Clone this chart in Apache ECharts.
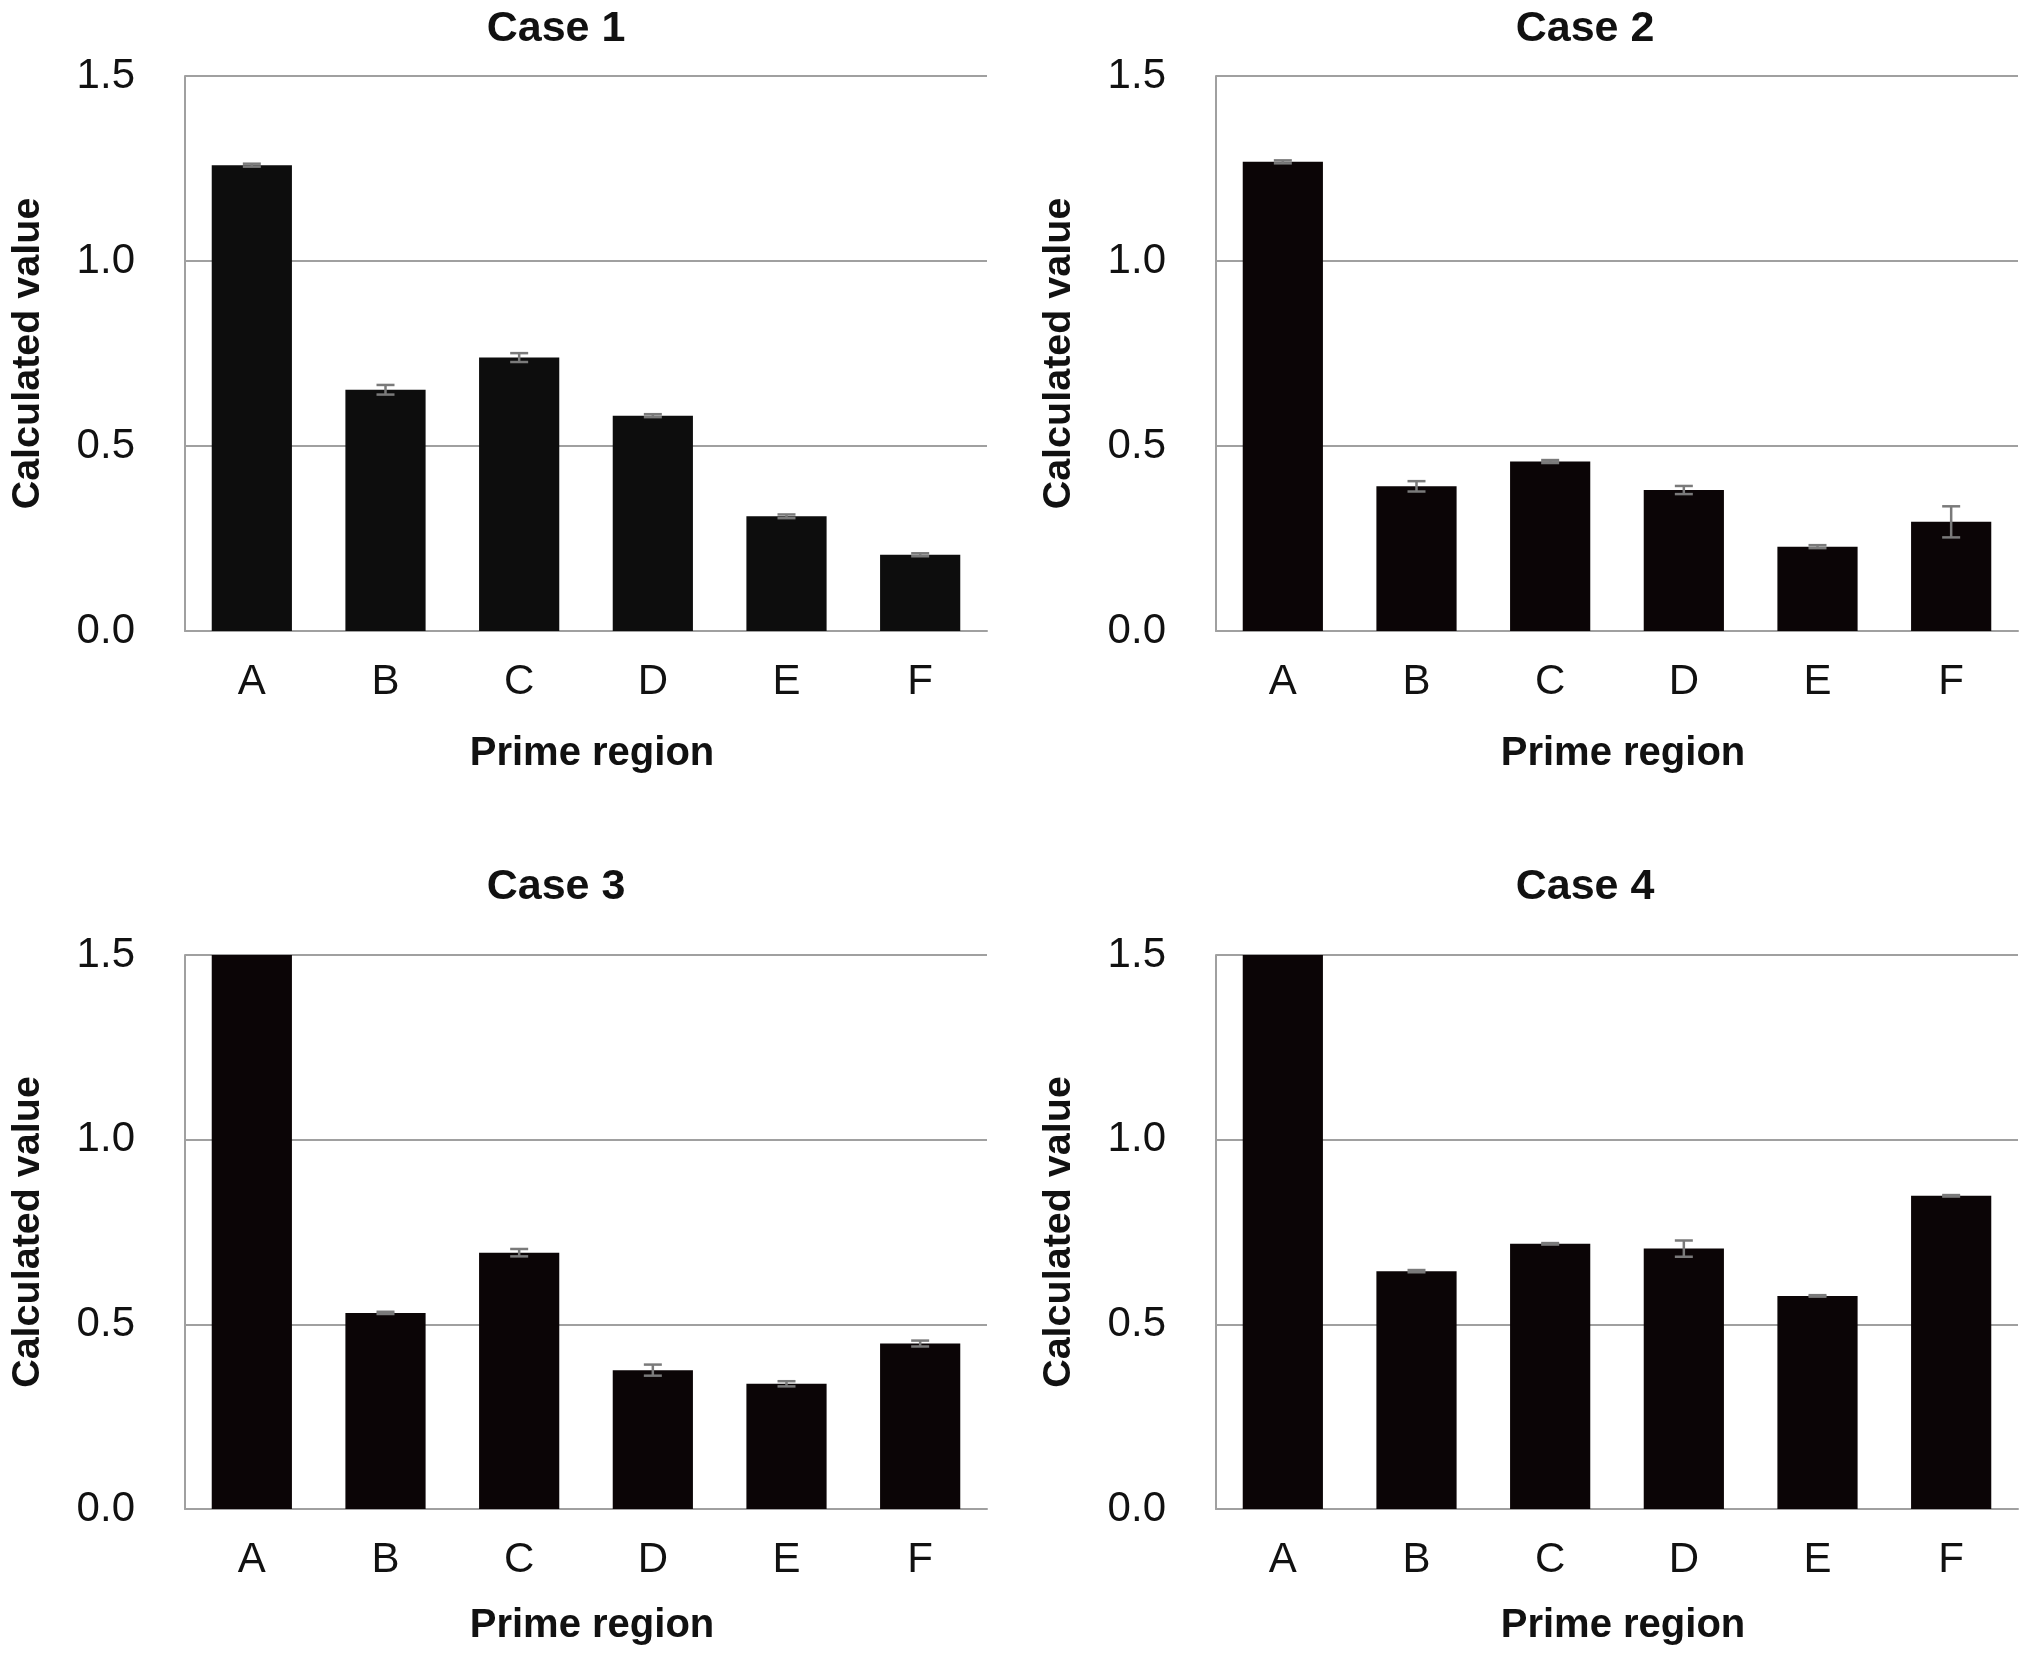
<!DOCTYPE html>
<html>
<head>
<meta charset="utf-8">
<script src="https://cdn.jsdelivr.net/npm/echarts@6/dist/echarts.min.js"></script>
<style>
html,body{margin:0;padding:0;background:#fff;}
#chart{width:2031px;height:1658px;}
</style>
</head>
<body>
<div id="chart"></div>
<script>
const categories = ['A','B','C','D','E','F'];
const titles = ['Case 1','Case 2','Case 3','Case 4'];
const yTicks = [0, 0.5, 1.0, 1.5];
const case1 = [1.259, 0.652, 0.739, 0.582, 0.310, 0.206];
const case2 = [1.268, 0.391, 0.458, 0.381, 0.228, 0.295];
const case3 = [1.5, 0.531, 0.694, 0.376, 0.339, 0.448];
const case4 = [1.5, 0.644, 0.718, 0.705, 0.577, 0.848];
const err1 = [0.004, 0.013, 0.012, 0.004, 0.005, 0.004];
const err2 = [0.004, 0.014, 0.004, 0.011, 0.004, 0.042];
const err3 = [0, 0.003, 0.010, 0.015, 0.007, 0.008];
const err4 = [0, 0.003, 0.002, 0.022, 0.002, 0.002];

const values = [case1, case2, case3, case4];
const errors = [err1, err2, err3, err4];
const barColors = ['#0d0d0d', '#0b0506', '#0b0506', '#0b0506'];

const grids = [
  {left: 185, top: 76, width: 802, height: 555},
  {left: 1216, top: 76, width: 802, height: 555},
  {left: 185, top: 955, width: 802, height: 554},
  {left: 1216, top: 955, width: 802, height: 554}
];
const titlePos = [
  {x: 551, y: 3}, {x: 1580, y: 3}, {x: 551, y: 861}, {x: 1580, y: 861}
];

const font = 'Liberation Sans, Arial, sans-serif';
const option = {
  backgroundColor: '#ffffff',
  animation: false,
  title: titles.map((t, i) => ({
    text: t, left: titlePos[i].x, top: titlePos[i].y, textAlign: 'center',
    textStyle: {fontFamily: font, fontWeight: 'bold', fontSize: 43, color: '#111'}
  })),
  grid: grids,
  xAxis: grids.map((g, i) => ({
    type: 'category', gridIndex: i, data: categories,
    name: 'Prime region', nameLocation: 'middle', nameGap: i < 2 ? 103 : 97,
    nameTextStyle: {fontFamily: font, fontWeight: 'bold', fontSize: 40, color: '#111', padding: [0, 0, 0, 12]},
    axisLine: {show: true, lineStyle: {color: '#a0a0a0', width: 2}},
    axisTick: {show: false},
    axisLabel: {fontFamily: font, fontSize: 42, color: '#111', margin: 30}
  })),
  yAxis: grids.map((g, i) => ({
    type: 'value', gridIndex: i, min: yTicks[0], max: yTicks[yTicks.length - 1], interval: 0.5,
    name: 'Calculated value', nameLocation: 'middle', nameGap: 137,
    nameTextStyle: {fontFamily: font, fontWeight: 'bold', fontSize: 39.5, color: '#111'},
    axisLine: {show: true, lineStyle: {color: '#a0a0a0', width: 2}},
    axisTick: {show: false},
    splitLine: {show: true, lineStyle: {color: '#a0a0a0', width: 2}},
    axisLabel: {fontFamily: font, fontSize: 42, color: '#111', margin: 50,
      formatter: v => v.toFixed(1)}
  })),
  series: []
};

values.forEach((vals, i) => {
  option.series.push({
    type: 'bar', xAxisIndex: i, yAxisIndex: i, data: vals,
    barWidth: '60%', clip: true,
    itemStyle: {color: barColors[i]}, z: 2
  });
  option.series.push({
    type: 'custom', xAxisIndex: i, yAxisIndex: i, z: 3,
    data: vals.map((v, j) => [j, v, errors[i][j]]),
    renderItem: function (params, api) {
      const x = api.value(0), v = api.value(1), e = api.value(2);
      if (!e) return null;
      const top = api.coord([x, v + e]);
      const bot = api.coord([x, v - e]);
      const hw = 9;
      const style = {stroke: '#7a7a7a', lineWidth: 2.5};
      return {
        type: 'group',
        children: [
          {type: 'line', shape: {x1: top[0], y1: top[1], x2: bot[0], y2: bot[1]}, style: style},
          {type: 'line', shape: {x1: top[0] - hw, y1: top[1], x2: top[0] + hw, y2: top[1]}, style: style},
          {type: 'line', shape: {x1: bot[0] - hw, y1: bot[1], x2: bot[0] + hw, y2: bot[1]}, style: style}
        ]
      };
    }
  });
});

const chart = echarts.init(document.getElementById('chart'));
chart.setOption(option);
</script>
</body>
</html>
